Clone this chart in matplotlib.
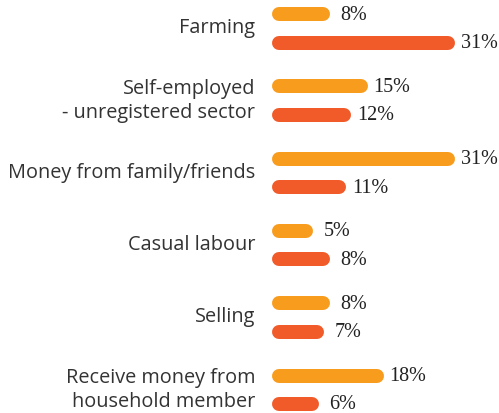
import matplotlib.pyplot as plt

# data
categories = ['Farming', 'Self-employed\n- unregistered sector', 'Money from family/friends',
              'Casual labour', 'Selling', 'Receive money from\nhousehold member']
first = [8, 15, 31, 5, 8, 18]
second = [31, 12, 11, 8, 7, 6]

orange = '#F89C1E'
red = '#F15A29'

W, H = 499, 414
fig = plt.figure(figsize=(W / 100, H / 100), dpi=100)
# axes in pixel units: x measured in %, y in pixels from top
x0 = 279
scale = 5.45
ax = fig.add_axes([0, 0, 1, 1])
ax.set_xlim(-x0 / scale, (W - x0) / scale)
ax.set_ylim(H, 0)
ax.axis('off')

group_top = 15
step = 72.3
gap = 28.5
lw = 14 * 0.72  # 14 px thick bars

for i, cat in enumerate(categories):
    y1 = group_top + i * step
    y2 = y1 + gap
    for y, v, c in [(y1, first[i], orange), (y2, second[i], red)]:
        ax.plot([0, v], [y, y], color=c, lw=lw, solid_capstyle='round')
        ax.text(v + 31 / scale, y, f'{v}%', ha='center', va='center', fontsize=14.5,
                family='Liberation Serif', color='#222222')
    ax.text(-24 / scale, (y1 + y2) / 2 - 1, cat, ha='right', va='center',
            fontsize=14.3, family='Open Sans', color='#333333', linespacing=1.27)

fig.savefig('out.png', dpi=100)
